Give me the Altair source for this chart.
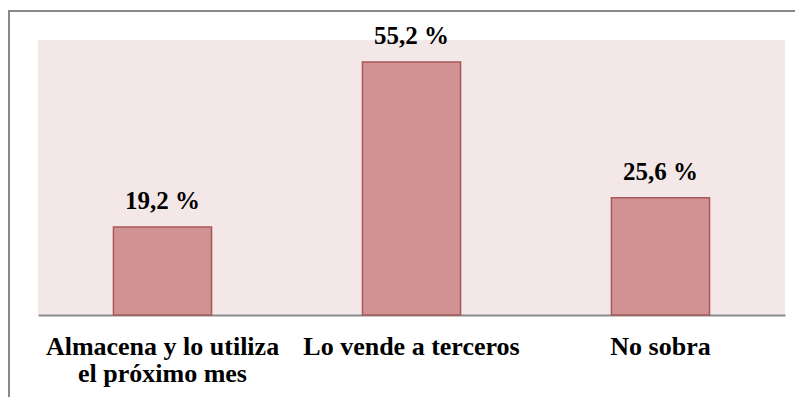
import altair as alt
import pandas as pd

categories = ["Almacena y lo utiliza|el próximo mes", "Lo vende a terceros", "No sobra"]
values = [19.2, 55.2, 25.6]

df = pd.DataFrame({"cat": categories, "v": values})
FONT = "Liberation Serif"

base = alt.Chart(df).encode(
    x=alt.X(
        "cat:N",
        sort=categories,
        scale=alt.Scale(paddingInner=0.606, paddingOuter=0.303),
        axis=alt.Axis(
            title=None,
            labelAngle=0,
            ticks=False,
            tickSize=0,
            labelPadding=39,
            labelBaseline="alphabetic",
            labelFont=FONT,
            labelFontSize=26,
            labelFontWeight="bold",
            labelColor="black",
            labelLineHeight=27,
            labelLimit=400,
            labelExpr="split(datum.label, '|')",
            domainColor="#8c8c8c",
            domainWidth=2,
        ),
    ),
    y=alt.Y("v:Q", scale=alt.Scale(domain=[0, 60]), axis=None),
)

bars = base.mark_bar(color="#D09292", stroke="#A85858", strokeWidth=1.5)

labels = base.transform_calculate(
    lab="replace(format(datum.v, '.1f'), '.', ',') + ' %'"
).mark_text(
    dy=-18, baseline="alphabetic", fontSize=25, fontWeight="bold", font=FONT, color="black"
).encode(text="lab:N")

frame_df = pd.DataFrame({"a": [0]})
left_line = alt.Chart(frame_df).mark_rule(color="#898989", strokeWidth=2).encode(
    x=alt.value(-29), y=alt.value(-29), y2=alt.value(400)
)
top_line = alt.Chart(frame_df).mark_rule(color="#898989", strokeWidth=2).encode(
    x=alt.value(-30), x2=alt.value(800), y=alt.value(-29)
)

chart = alt.layer(bars, labels, left_line, top_line).properties(
    width=747,
    height=275,
    padding={"left": 30, "top": 32, "right": 10, "bottom": 82},
    autosize=alt.AutoSizeParams(type="none"),
    background="white",
).configure(font=FONT).configure_view(fill="#F3E7E7", stroke=None)

chart.save("out.html", embed_options={"renderer": "svg", "actions": False})
